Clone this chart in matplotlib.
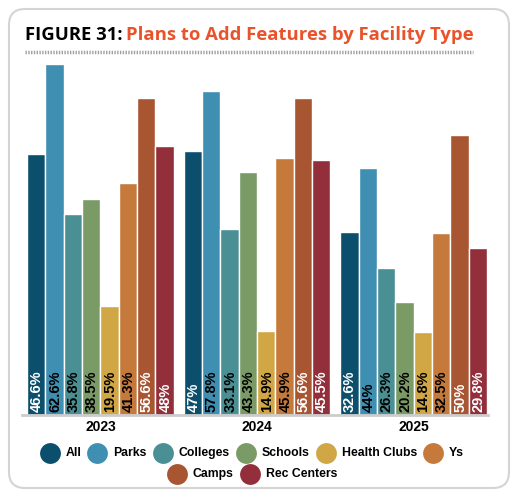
import numpy as np
import matplotlib.pyplot as plt
from matplotlib.patches import FancyBboxPatch

# -----------------------------
# DATA
# -----------------------------
years = ["2023", "2024", "2025"]
facility_types = ["All", "Parks", "Colleges", "Schools", "Health Clubs", "Ys", "Camps", "Rec Centers"]
values_2023 = [46.6, 62.6, 35.8, 38.5, 19.5, 41.3, 56.6, 48]
values_2024 = [47, 57.8, 33.1, 43.3, 14.9, 45.9, 56.6, 45.5]
values_2025 = [32.6, 44, 26.3, 20.2, 14.8, 32.5, 50, 29.8]
label_texts_2023 = ["46.6%", "62.6%", "35.8%", "38.5%", "19.5%", "41.3%", "56.6%", "48%"]
label_texts_2024 = ["47%", "57.8%", "33.1%", "43.3%", "14.9%", "45.9%", "56.6%", "45.5%"]
label_texts_2025 = ["32.6%", "44%", "26.3%", "20.2%", "14.8%", "32.5%", "50%", "29.8%"]

colors = ["#0b4f6c", "#3f8fb2", "#4a8f93", "#7b9b66", "#d1a746", "#c57a3c", "#a85532", "#922f3a"]
label_colors = ["white", "black", "black", "black", "black", "black", "white", "white"]

all_values = [values_2023, values_2024, values_2025]
all_labels = [label_texts_2023, label_texts_2024, label_texts_2025]

W, H = 518, 498
fig = plt.figure(figsize=(W / 100, H / 100), dpi=100)
fig.patch.set_facecolor("white")

# overlay in pixel coords for card, title, legend
ov = fig.add_axes([0, 0, 1, 1])
ov.set_xlim(0, W)
ov.set_ylim(H, 0)
ov.axis("off")

card = FancyBboxPatch((9, 9), 500, 479, boxstyle="round,pad=0,rounding_size=16",
                      facecolor="white", edgecolor="#d4d4d4", linewidth=1.5)
ov.add_patch(card)

# -----------------------------
# BARS
# -----------------------------
ax = fig.add_axes([22 / W, (H - 415) / H, 466 / W, 355 / H])
ax.set_facecolor("none")
group_step = 8.53
for g, (vals, labs) in enumerate(zip(all_values, all_labels)):
    xs = g * group_step + np.arange(len(vals))
    ax.bar(xs, vals, width=1.0, color=colors, edgecolor="white", linewidth=1.0)
    for x, v, t, c in zip(xs, vals, labs, label_colors):
        ax.text(x + 0.04, 0.6, t, rotation=90, ha="center", va="bottom", color=c,
                fontsize=10.5, family=["Liberation Sans", "DejaVu Sans"],
                fontweight="bold")
    ax.text(g * group_step + 3.5, -2.2, years[g], ha="center", va="center",
            fontsize=10, fontweight="bold", family=["Liberation Sans", "DejaVu Sans"])

ax.set_xlim(-0.77, 2 * group_step + 7.5 + 0.05)
ax.set_ylim(0, 63.3)
for s in ["top", "right", "left"]:
    ax.spines[s].set_visible(False)
ax.spines["bottom"].set_color("#cccccc")
ax.spines["bottom"].set_linewidth(2)
ax.set_xticks([])
ax.set_yticks([])

# -----------------------------
# TITLE
# -----------------------------
title_font = dict(fontsize=13.3, fontweight="bold", family=["Open Sans", "DejaVu Sans"])
t1 = ov.text(25, 35, "FIGURE 31:", color="black", va="center", ha="left", **title_font)
fig.canvas.draw()
renderer = fig.canvas.get_renderer()
inv = ov.transData.inverted()
bb = t1.get_window_extent(renderer)
x_end = inv.transform((bb.x1, bb.y0))[0]
ov.text(x_end + 4, 35, "Plans to Add Features by Facility Type", color="#e9532b",
        va="center", ha="left", **title_font)
ov.plot([25, 473], [52, 52], color="#a0a0a0", linewidth=2.5, linestyle=(0, (0.4, 0.4)))

# -----------------------------
# LEGEND
# -----------------------------
legend_rows = [facility_types[:6], facility_types[6:]]
row_y = [453, 474]
leg_font = dict(fontsize=8.8, fontweight="bold", family=["Liberation Sans", "DejaVu Sans"])
gap = 16
radius = 7.5
for row, y in zip(legend_rows, row_y):
    widths = []
    for name in row:
        tmp = ov.text(0, 0, name, **leg_font)
        b = tmp.get_window_extent(renderer)
        widths.append(b.width)
        tmp.remove()
    total = radius + sum(gap + w for w in widths) + (len(row) - 1) * gap
    x = 253 - total / 2 + radius
    for name, w in zip(row, widths):
        ov.plot(x, y, "o", markersize=15, color=colors[facility_types.index(name)],
                markeredgewidth=0)
        ov.text(x + gap, y, name, va="center", ha="left", **leg_font)
        x += gap + w + gap

fig.savefig("out.png", dpi=100)
